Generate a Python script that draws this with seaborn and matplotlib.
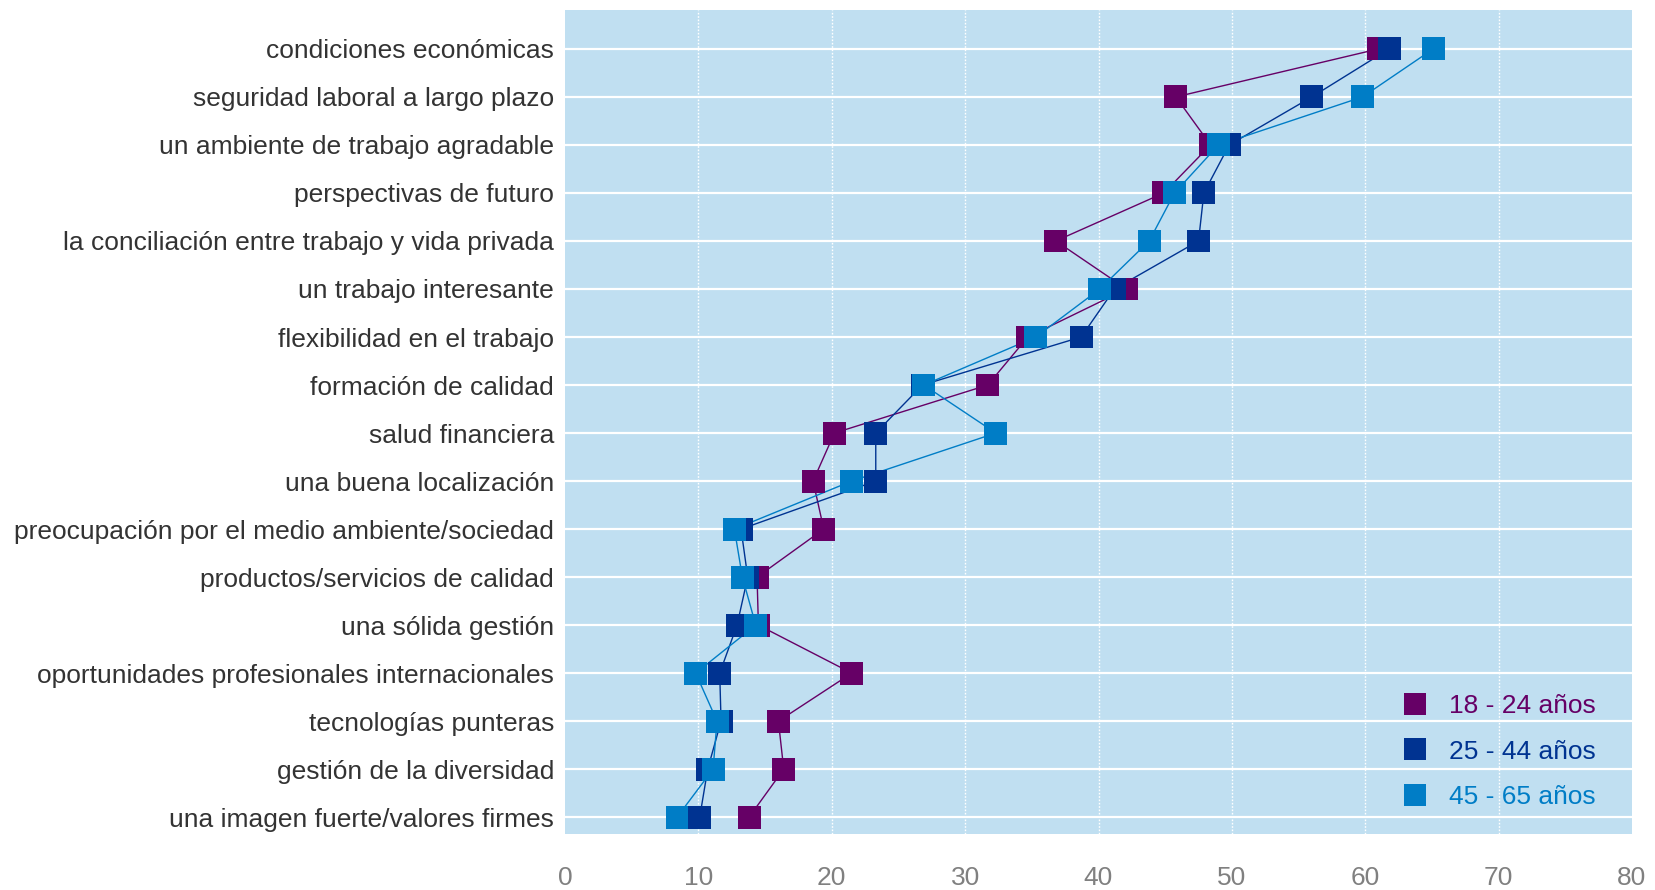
#!/usr/bin/env python3
import pandas as pd
import seaborn as sns
import matplotlib.pyplot as plt
from matplotlib import lines

# -------------------------------------------------------------------------
# Data

CATEGORIES = [
    "condiciones económicas",
    "seguridad laboral a largo plazo",
    "un ambiente de trabajo agradable",
    "perspectivas de futuro",
    "la conciliación entre trabajo y vida privada",
    "un trabajo interesante",
    "flexibilidad en el trabajo",
    "formación de calidad",
    "salud financiera",
    "una buena localización",
    "preocupación por el medio ambiente/sociedad",
    "productos/servicios de calidad",
    "una sólida gestión",
    "oportunidades profesionales internacionales",
    "tecnologías punteras",
    "gestión de la diversidad",
    "una imagen fuerte/valores firmes",
]

AGE_GROUPS = ["18 - 24 años", "25 - 44 años", "45 - 65 años"]

VALUES_18_24 = [61.0, 45.8, 48.4, 44.9, 36.8, 42.1, 34.7, 31.7, 20.2,
                18.6, 19.4, 14.4, 14.5, 21.5, 16.0, 16.4, 13.8]
VALUES_25_44 = [61.8, 56.0, 49.8, 47.9, 47.5, 41.2, 38.7, 26.8, 23.3,
                23.3, 13.2, 13.7, 12.9, 11.6, 11.7, 10.7, 10.1]
VALUES_45_65 = [65.1, 59.8, 49.0, 45.7, 43.8, 40.1, 35.3, 26.9, 32.3,
                21.5, 12.7, 13.3, 14.3, 9.8, 11.4, 11.1, 8.4]

X_TICKS = [0, 10, 20, 30, 40, 50, 60, 70, 80]

# -------------------------------------------------------------------------
# Styles

GROUP_COLORS = {
    "18 - 24 años": "#660066",
    "25 - 44 años": "#003391",
    "45 - 65 años": "#007DC6",
}
BG_COLOR = "#C0DFF1"
MARKER_SIZE = 16.5  # points
FONT_SIZE = 19

sns.set_theme(style="white")
plt.rcParams["font.family"] = ["Liberation Sans", "DejaVu Sans"]

# -------------------------------------------------------------------------
# Long-format dataframe

positions = list(range(len(CATEGORIES)))
frames = []
for group, values in zip(AGE_GROUPS, [VALUES_18_24, VALUES_25_44, VALUES_45_65]):
    frames.append(
        pd.DataFrame(
            {"category": CATEGORIES, "pos": positions, "value": values, "group": group}
        )
    )
plot_df = pd.concat(frames, ignore_index=True)

# -------------------------------------------------------------------------
# Plot Setup

fig = plt.figure(figsize=(16.56, 8.90), dpi=100)
ax = fig.add_axes([565 / 1656, 56 / 890, 1067 / 1656, 824 / 890])
ax.set_facecolor(BG_COLOR)

# Grid: solid white rows, dotted white columns
for pos in positions:
    ax.axhline(pos, color="white", lw=1.6, zorder=1)
for x in X_TICKS[1:-1]:
    ax.axvline(x, color="white", lw=1.0, ls=(0, (1.2, 1.2)), zorder=1)

# Connecting lines
sns.lineplot(
    ax=ax,
    data=plot_df,
    x="value",
    y="pos",
    hue="group",
    palette=GROUP_COLORS,
    sort=False,
    estimator=None,
    linewidth=1.0,
    legend=False,
    zorder=2,
)

# Square markers (drawn in group order so later groups sit on top)
sns.scatterplot(
    ax=ax,
    data=plot_df,
    x="value",
    y="pos",
    hue="group",
    palette=GROUP_COLORS,
    marker="s",
    s=MARKER_SIZE ** 2,
    linewidth=0,
    legend=False,
    zorder=3,
)

# -------------------------------------------------------------------------
# Axes

ax.set_xlim(0, 80)
ax.set_ylim(16.35, -0.81)
ax.set_xticks(X_TICKS)
ax.set_xticklabels([str(t) for t in X_TICKS], fontsize=FONT_SIZE, color="#808080")
ax.set_yticks(positions)
ax.set_yticklabels(CATEGORIES, fontsize=FONT_SIZE, color="#333333")
ax.tick_params(axis="x", length=0, pad=23)
ax.tick_params(axis="y", length=0, pad=8)
ax.set_xlabel("")
ax.set_ylabel("")
for spine in ax.spines:
    ax.spines[spine].set_visible(False)

# -------------------------------------------------------------------------
# Legend

legend_handles = []
for group in AGE_GROUPS:
    handle = lines.Line2D(
        [0], [0],
        marker="s",
        linestyle="none",
        markersize=MARKER_SIZE,
        markeredgewidth=0,
        color=GROUP_COLORS[group],
    )
    legend_handles.append(handle)

ax.legend(
    handles=legend_handles,
    labels=AGE_GROUPS,
    loc="lower right",
    bbox_to_anchor=(0.966, 0.030),
    frameon=False,
    fontsize=FONT_SIZE,
    labelcolor=[GROUP_COLORS[g] for g in AGE_GROUPS],
    handlelength=0.9,
    handletextpad=0.85,
    labelspacing=0.82,
    borderpad=0,
    borderaxespad=0,
)

# -------------------------------------------------------------------------
# Export

plt.savefig("out.png", dpi=100)
